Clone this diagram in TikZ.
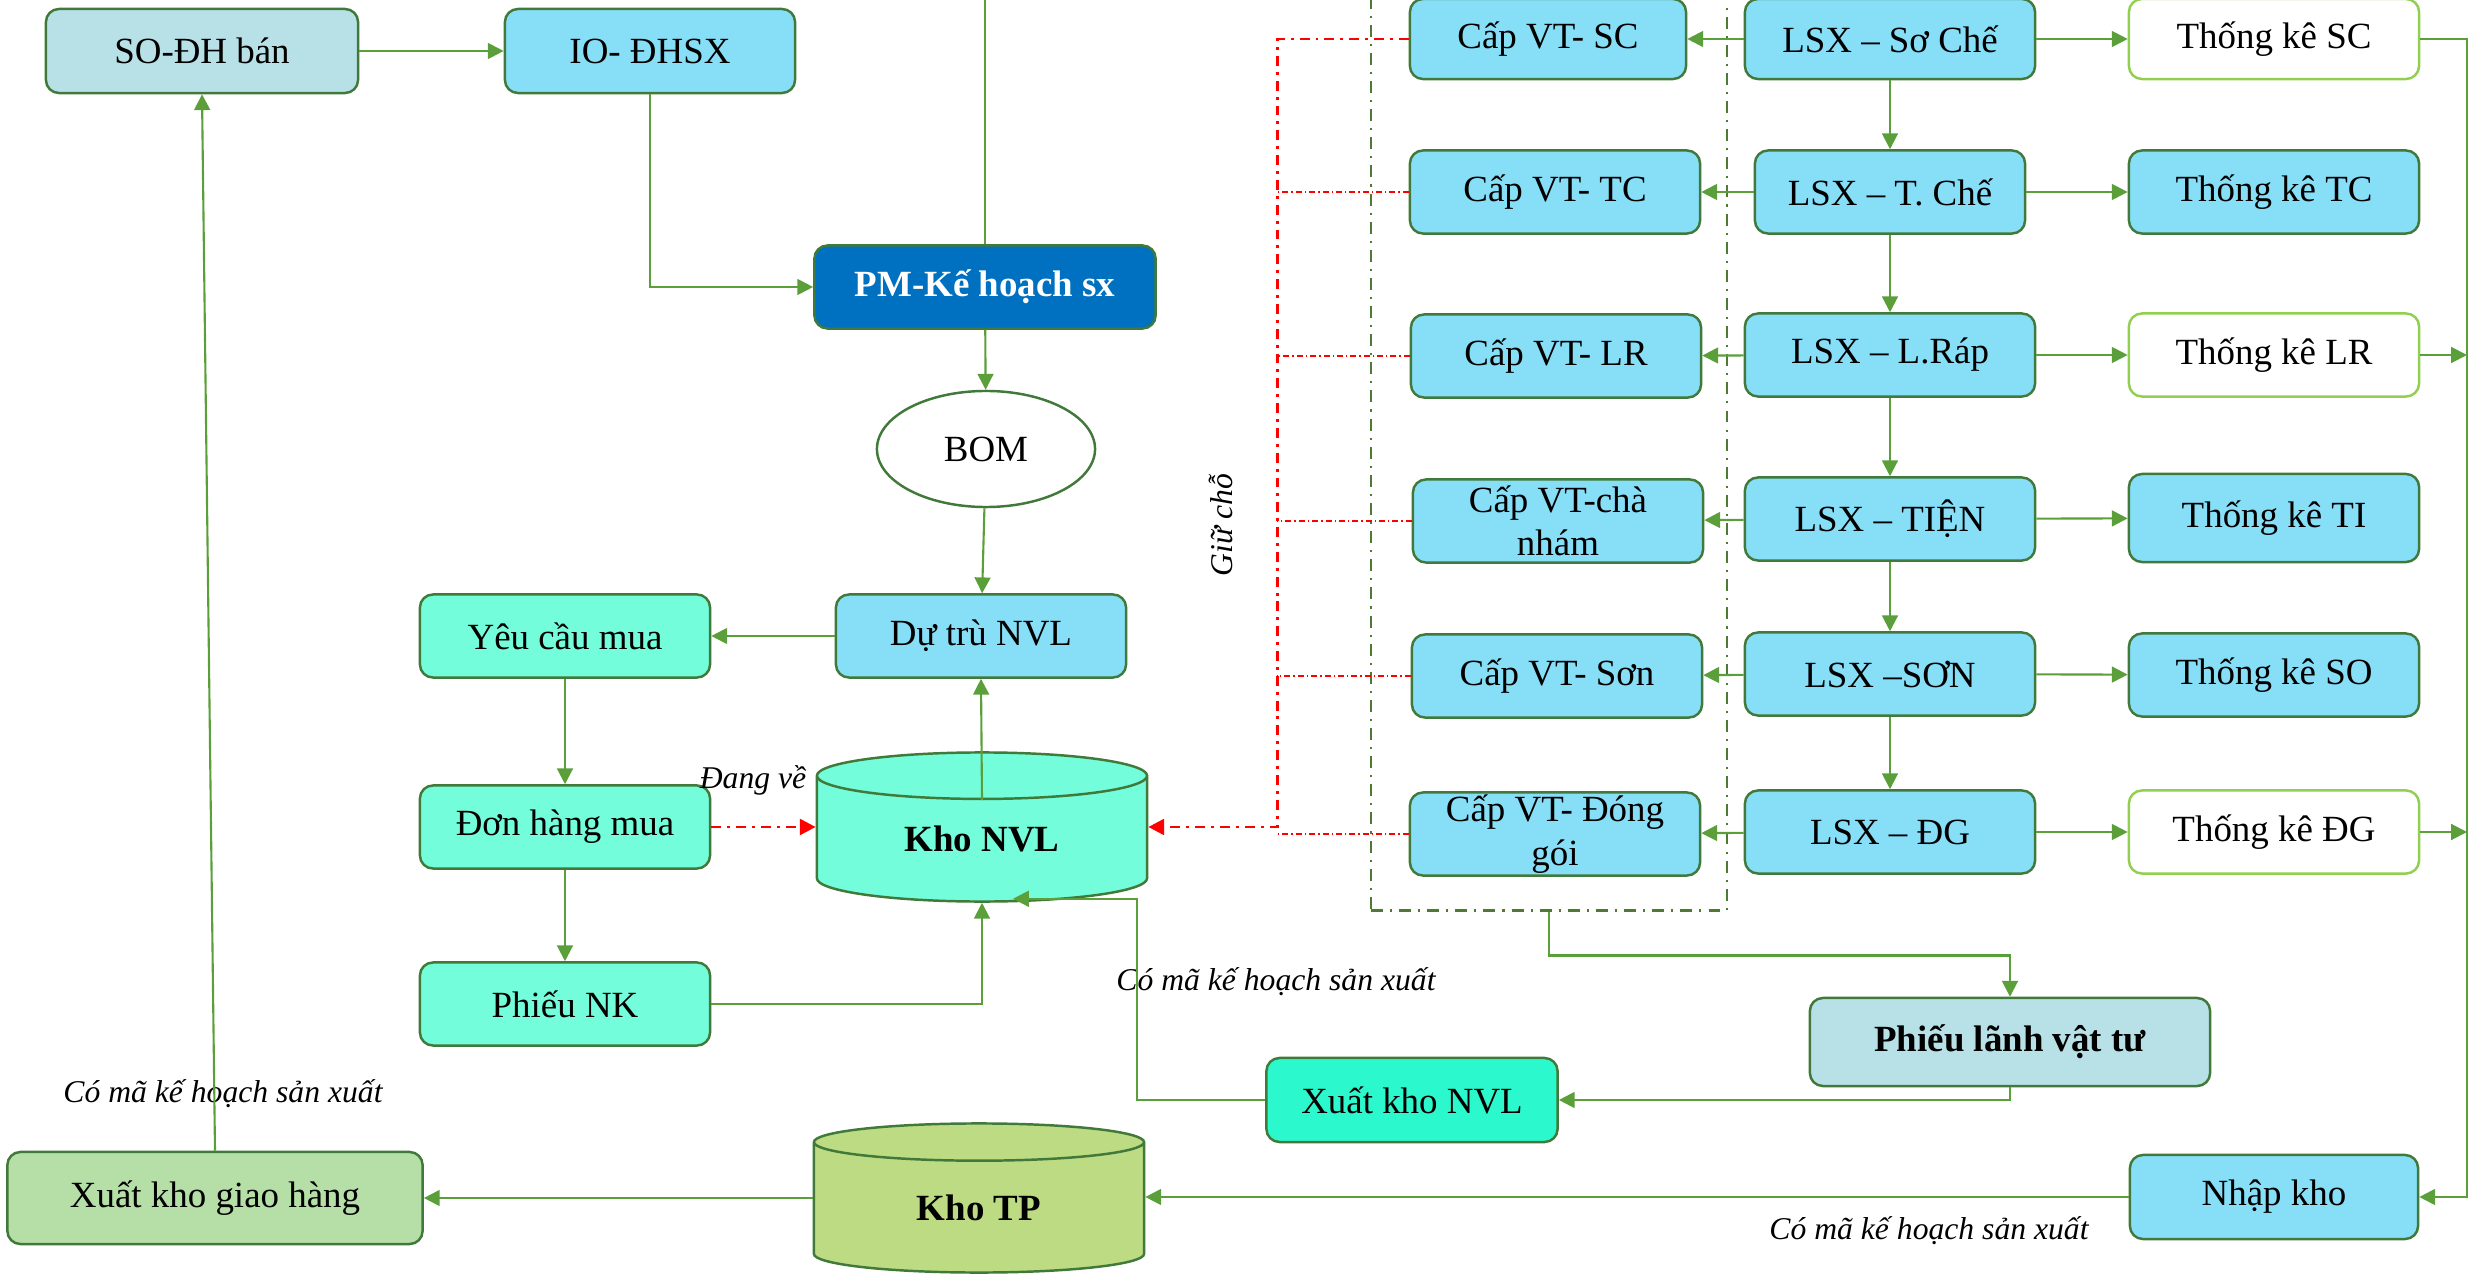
\documentclass[tikz,border=0pt]{standalone}
\usepackage{fontspec}
\setmainfont{Liberation Serif}
\usetikzlibrary{arrows.meta,shapes.geometric,calc}

\definecolor{boxline}{HTML}{41793A}
\definecolor{arrowgreen}{HTML}{5B9F3A}
\definecolor{cyanbox}{HTML}{87DEF7}
\definecolor{greybox}{HTML}{B7E1E6}
\definecolor{aquabox}{HTML}{73FDDA}
\definecolor{mintbox}{HTML}{2BF9CD}
\definecolor{leafbox}{HTML}{B5DFA7}
\definecolor{olivebox}{HTML}{BDDB82}
\definecolor{pmblue}{HTML}{0070C0}
\definecolor{lightline}{HTML}{92CF50}
\definecolor{groupline}{HTML}{4E7A33}

\begin{document}
\begin{tikzpicture}[x=0.01cm,y=-0.01cm]
		\tikzset{box/.style = {draw=boxline, line width=0.7pt, rounded corners=1.3mm, fill=cyanbox,
				minimum width=2.9cm, minimum height=0.83cm, inner sep=0pt, align=center,
				font=\fontsize{10.5}{12.4}\selectfont}}
		\tikzset{store/.style = {cylinder, shape border rotate=90, aspect=0.3, draw=boxline, line width=0.7pt,
				minimum width=3.3cm, minimum height=1.49cm, inner sep=0pt, anchor=shape center,
				font=\fontsize{10.5}{12.4}\selectfont\bfseries}}
		\tikzset{edge/.style = {draw=arrowgreen, line width=0.6pt, -{Triangle[length=4.5pt,width=4.5pt]}}}
		\tikzset{line/.style = {draw=arrowgreen, line width=0.6pt}}
		\tikzset{redflow/.style = {draw=red, line width=0.85pt, dash pattern=on 2.8pt off 1.7pt on 0.85pt off 1.7pt,
				-{Triangle[length=4.5pt,width=4.5pt]}}}
		\tikzset{redhold/.style = {draw=red, line width=0.35pt, dash pattern=on 1.7pt off 0.85pt on 0.4pt off 0.85pt}}
		\tikzset{note/.style = {font=\fontsize{9}{11}\selectfont\itshape, inner sep=0pt}}
		
		\useasboundingbox (0,0) rectangle (2471,1276);
		
		\node[draw=groupline, line width=0.7pt, dash pattern=on 3.4pt off 2pt on 0.6pt off 2pt,
			minimum width=3.56cm, minimum height=9.3cm, inner sep=0pt] (grp) at (1549,445) {};
		
		\node[box, fill=greybox, minimum width=3.12cm, minimum height=0.84cm] (so) at ( 202,   51) {SO-ĐH bán};
		\node[box, minimum height=0.84cm]                    (io) at ( 650,   51) {IO- ĐHSX};
		\node[box, fill=pmblue, text=white, font=\fontsize{10.5}{12.4}\selectfont\bfseries,
			minimum width=3.41cm]                           (pm) at ( 985,  287) {PM-Kế hoạch sx};
		\node[ellipse, draw=boxline, line width=0.7pt, fill=white, minimum width=2.18cm, minimum height=1.16cm,
			inner sep=0pt, font=\fontsize{10.5}{12.4}\selectfont] (bom) at ( 986,  449) {BOM};
		\node[box]                                          (dutru) at ( 981,  636) {Dự trù NVL};
		\node[box, fill=aquabox]                            (yeucau) at ( 565,  636) {Yêu cầu mua};
		\node[box, fill=aquabox]                            (donhang) at ( 565,  827) {Đơn hàng mua};
		\node[box, fill=aquabox]                            (phieunk) at ( 565, 1004) {Phiếu NK};
		\node[store, fill=aquabox]                          (khonvl) at ( 982,  827) {Kho NVL};
		\node[store, fill=olivebox]                         (khotp) at ( 979, 1198) {Kho TP};
		\node[box, fill=leafbox, minimum width=4.15cm, minimum height=0.92cm] (xkgh) at ( 215, 1198) {Xuất kho giao hàng};
		\node[box, fill=mintbox, minimum width=2.91cm, minimum height=0.84cm] (xknvl) at (1412, 1100) {Xuất kho NVL};
		\node[box, fill=greybox, font=\fontsize{10.5}{12.4}\selectfont\bfseries,
			minimum width=4cm, minimum height=0.88cm]        (phieulanh) at (2010, 1042) {Phiếu lãnh vật tư};
		\node[box, minimum width=2.88cm, minimum height=0.84cm] (nhapkho) at (2274, 1197) {Nhập kho};
		
		\node[box, minimum width=2.76cm, minimum height=0.8cm] (cap1) at (1548,   39) {Cấp VT- SC};
		\node[box]                                          (cap2) at (1555,  192) {Cấp VT- TC};
		\node[box]                                          (cap3) at (1556,  356) {Cấp VT- LR};
		\node[box]                                          (cap4) at (1558,  521) {Cấp VT-chà\\nhám};
		\node[box]                                          (cap5) at (1557,  676) {Cấp VT- Sơn};
		\node[box]                                          (cap6) at (1555,  834) {Cấp VT- Đóng\\gói};
		
		\node[box, minimum height=0.8cm]                    (lsx1) at (1890,   39) {LSX – Sơ Chế};
		\node[box, minimum width=2.7cm]                     (lsx2) at (1890,  192) {LSX – T. Chế};
		\node[box]                                          (lsx3) at (1890,  355) {LSX – L.Ráp};
		\node[box]                                          (lsx4) at (1890,  519) {LSX – TIỆN};
		\node[box]                                          (lsx5) at (1890,  674) {LSX –SƠN};
		\node[box]                                          (lsx6) at (1890,  832) {LSX – ĐG};
		
		\node[box, fill=white, draw=lightline, minimum height=0.8cm] (tk1) at (2274,   39) {Thống kê SC};
		\node[box]                                          (tk2) at (2274,  192) {Thống kê TC};
		\node[box, fill=white, draw=lightline]              (tk3) at (2274,  355) {Thống kê LR};
		\node[box, minimum height=0.88cm]                   (tk4) at (2274,  518) {Thống kê TI};
		\node[box]                                          (tk5) at (2274,  675) {Thống kê SO};
		\node[box, fill=white, draw=lightline]              (tk6) at (2274,  832) {Thống kê ĐG};
		
		\coordinate (pmtop) at ( 985,    0);
		\coordinate (hold)  at (1277,  827);
		\coordinate (rail)  at (2467, 1197);
		
		\node[note]                  (n1) at ( 753,  780) {Đang về};
		\node[note]                  (n2) at (1276,  982) {Có mã kế hoạch sản xuất};
		\node[note]                  (n3) at ( 223, 1094) {Có mã kế hoạch sản xuất};
		\node[note]                  (n4) at (1929, 1231) {Có mã kế hoạch sản xuất};
		\node[note, rotate=90]       (n5) at (1221,  525) {Giữ chỗ};
		
		\draw[edge] (so) to (io);
		\draw[edge] (io.south) |- (pm.west);
		\draw[line] (pm) to (pmtop);
		\draw[edge] (pm) to (bom);
		\draw[edge] (bom) to (dutru);
		\draw[edge] (dutru) to (yeucau);
		\draw[edge] (yeucau) to (donhang);
		\draw[edge] (donhang) to (phieunk);
		\draw[edge] (phieunk.east) -| (khonvl.south);
		\draw[edge] ($(khonvl.north)+(0,49)$) to (dutru.south);
		\draw[redflow] (donhang.east) -- (donhang.east -| khonvl.west);
		\draw[redflow] (cap1.west) -| (hold) -- (hold -| khonvl.east);
		\foreach \i in {2,...,6}
			\draw[redhold] (cap\i.west) -- (cap\i.west -| hold);
		\draw[edge] (grp.south) -- ++(0,44) -| (phieulanh.north);
		\draw[edge] (phieulanh.south) |- (xknvl.east);
		\draw[edge] (xknvl.west) -- ++(-128,0) |- ($(khonvl.south)+(31,-4)$);
		\draw[edge] (khotp.west |- xkgh.east) -- (xkgh.east);
		\draw[edge] (nhapkho.west) -- (nhapkho.west -| khotp.east);
		\draw[edge] (xkgh.north) to (so.south);
		
		\foreach \i/\j in {1/2,2/3,3/4,4/5,5/6}
			\draw[edge] (lsx\i) to (lsx\j);
		\foreach \i in {1,...,6} {
			\draw[edge] (lsx\i) to (cap\i);
			\draw[edge] (lsx\i) to (tk\i);
		}
		\draw[edge] (tk1.east) -| (rail) -- (nhapkho.east);
		\draw[edge] (tk3.east) -- (tk3.east -| rail);
		\draw[edge] (tk6.east) -- (tk6.east -| rail);
\end{tikzpicture}
\end{document}
